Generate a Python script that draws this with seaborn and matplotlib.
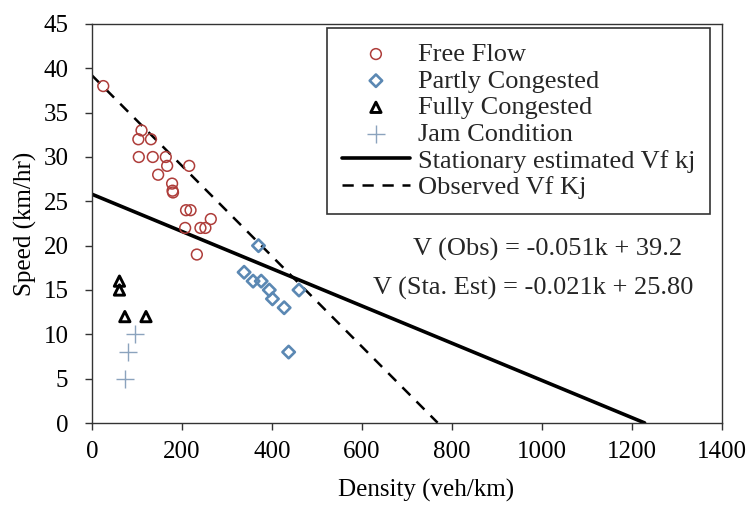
import numpy as np
import pandas as pd
import matplotlib
matplotlib.use("Agg")
import matplotlib.pyplot as plt
import seaborn as sns

# ---- data ----
free_k = [25, 110, 103, 131, 104, 135, 164, 167, 216, 147, 178, 179, 180, 209, 219, 264, 207, 241, 252, 233]
free_v = [38, 33, 32, 32, 30, 30, 30, 29, 29, 28, 27, 26.2, 26, 24, 24, 23, 22, 22, 22, 19]

partly_k = [370, 338, 358, 376, 394, 401, 460, 427, 437]
partly_v = [20, 17, 16, 16, 15, 14, 15, 13, 8]

fully_k = [61, 61, 73, 120]
fully_v = [16, 15, 12, 12]

jam_k = [96, 81, 73]
jam_v = [10, 8, 5]

obs_slope, obs_int = -0.051, 39.2
sta_slope, sta_int = -0.021, 25.80
obs_k = [0, 768]
sta_k = [0, 1228]

x_ticks = [0, 200, 400, 600, 800, 1000, 1200, 1400]
y_ticks = [0, 5, 10, 15, 20, 25, 30, 35, 40, 45]

sns.set_theme(style="white")
plt.rcParams["font.family"] = ["Liberation Serif", "DejaVu Serif"]

fig = plt.figure(figsize=(7.5, 5.08), dpi=100)
ax = fig.add_axes([92 / 750, 1 - 423 / 508, 630 / 750, 399 / 508])

fs_tick = 18
fs_big = 19

sns.scatterplot(x=free_k, y=free_v, ax=ax, marker="o", s=60, facecolor="none",
                edgecolor="#AE3D3A", linewidth=1.1, label="Free Flow", zorder=3)
sns.scatterplot(x=partly_k, y=partly_v, ax=ax, marker="D", s=40, facecolor="none",
                edgecolor="#5B88B3", linewidth=1.9, label="Partly Congested", zorder=3)
sns.scatterplot(x=fully_k, y=fully_v, ax=ax, marker="^", s=55, facecolor="none",
                edgecolor="black", linewidth=2.1, label="Fully Congested", zorder=3)
sns.scatterplot(x=jam_k, y=jam_v, ax=ax, marker="+", s=170, color="#8BA3BD",
                linewidth=1.0, label="Jam Condition", zorder=3)

sta_x = np.array(sta_k, dtype=float)
obs_x = np.array(obs_k, dtype=float)
sns.lineplot(x=sta_x, y=sta_slope * sta_x + sta_int, ax=ax, color="black",
             linewidth=2.6, label="Stationary estimated Vf kj", zorder=2)
sns.lineplot(x=obs_x, y=obs_slope * obs_x + obs_int, ax=ax, color="black",
             linewidth=1.8, label="Observed Vf Kj", zorder=2)
ax.lines[-1].set_linestyle((0, (4.5, 3.5)))

ax.set_xlim(0, 1400)
ax.set_ylim(0, 45)
ax.set_xticks(x_ticks)
ax.set_yticks(y_ticks)
ax.tick_params(axis="both", direction="out", length=5, width=1, color="#333333",
               labelsize=fs_tick, colors="black", bottom=True, left=True)
ax.tick_params(axis="y", pad=12)
ax.tick_params(axis="x", pad=8)
for sp in ax.spines.values():
    sp.set_visible(True)
    sp.set_color("#333333")
    sp.set_linewidth(1.0)

ax.set_xlabel("Density (veh/km)", fontsize=fs_tick, color="black")
ax.set_ylabel("Speed (km/hr)", fontsize=fs_tick, color="black")
ax.xaxis.set_label_coords(0.53, -0.14)
ax.yaxis.set_label_coords(-0.088, 0.5)

ax.text(713, 19.6, "V (Obs) = -0.051k + 39.2", fontsize=fs_big, ha="left", va="center")
ax.text(625, 15.2, "V (Sta. Est) = -0.021k + 25.80", fontsize=fs_big, ha="left", va="center")

handles, labels = ax.get_legend_handles_labels()
leg = ax.legend(handles, labels, loc="upper right", bbox_to_anchor=(0.981, 0.99),
                fontsize=fs_big, frameon=True, fancybox=False, framealpha=1,
                edgecolor="#333333", borderpad=0.55, labelspacing=0.12,
                handlelength=2.6, handletextpad=0.3, borderaxespad=0.0)
leg.get_frame().set_linewidth(1.2)

fig.savefig("out.png", dpi=100)
